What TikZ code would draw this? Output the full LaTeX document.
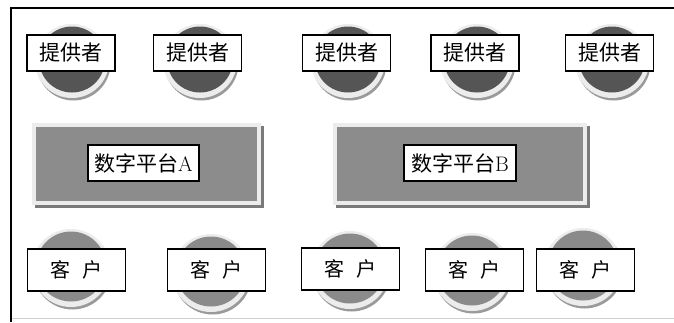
\documentclass[tikz,border=0pt]{standalone}
\usepackage{fontspec}
\newfontfamily\cjk{Noto Sans CJK SC}
\definecolor{ringlight}{HTML}{ECECEC}
\definecolor{ringshadow}{HTML}{9A9A9A}
\definecolor{topdark}{HTML}{555555}
\definecolor{botdark}{HTML}{8A8A8A}
\definecolor{platdark}{HTML}{8C8C8C}
\definecolor{platshadow}{HTML}{7A7A7A}
\definecolor{framegray}{HTML}{D0D0D0}
\tikzset{
  disc/.style={circle, fill=ringlight, inner sep=0pt, minimum size=#1,
    preaction={fill=ringshadow, transform canvas={shift={(1.5pt,-2.5pt)}}}},
  provdisc/.style={disc=74pt,
    path picture={\fill[topdark] ([yshift=1.5pt]path picture bounding box.center) circle (33pt);}},
  custdisc/.style={disc=78pt,
    path picture={\fill[botdark] ([yshift=1.5pt]path picture bounding box.center) circle (35pt);}},
  provlabel/.style={draw=black, line width=1.2pt, fill=white, minimum width=88pt, minimum height=36pt,
    inner sep=0pt, font=\cjk\fontsize{21pt}{21pt}\selectfont},
  custlabel/.style={draw=black, line width=1.2pt, fill=white, minimum width=98pt, minimum height=42pt,
    inner sep=0pt, font=\cjk\fontsize{20pt}{20pt}\selectfont},
  platform/.style={rectangle, fill=ringlight, inner sep=0pt, minimum height=82pt,
    preaction={fill=platshadow, transform canvas={shift={(3pt,-3pt)}}},
    path picture={\fill[platdark] ([shift={(4pt,-4pt)}]path picture bounding box.north west) rectangle ([shift={(-4pt,4pt)}]path picture bounding box.south east);}},
  platlabel/.style={draw=black, line width=1.2pt, fill=white, minimum height=36pt,
    inner sep=3pt, font=\cjk\fontsize{21pt}{21pt}\selectfont},
}
\begin{document}
\begin{tikzpicture}[x=1pt,y=-1pt]
\useasboundingbox (0,0) rectangle (674,322);
\fill[white] (0,0) rectangle (674,322);
% frame
\coordinate (ftr) at (674,8);
\coordinate (ftl) at (11,8);
\coordinate (fbl) at (11,322);
\coordinate (fb1) at (11,318);
\coordinate (fb2) at (674,318);
\draw[framegray, line width=0.8pt] (fb1) -- (fb2);
\draw[black, line width=1.5pt] (ftr) -- (ftl) -- (fbl);
% provider discs
\node[provdisc] (pd1) at (72,61) {};
\node[provdisc] (pd2) at (200,61) {};
\node[provdisc] (pd3) at (348,61) {};
\node[provdisc] (pd4) at (477,61) {};
\node[provdisc] (pd5) at (612,61) {};
\node[provlabel] (p1) at (71,53) {提供者};
\node[provlabel] (p2) at (197.5,53) {提供者};
\node[provlabel] (p3) at (346.5,53) {提供者};
\node[provlabel] (p4) at (475,53) {提供者};
\node[provlabel] (p5) at (609.5,53) {提供者};
% platforms
\node[platform, minimum width=229pt] (pa) at (146.5,164) {};
\node[platform, minimum width=254pt] (pb) at (460,164) {};
\node[platlabel, minimum width=111pt] (la) at (143.5,163) {数字平台{\rmfamily\fontsize{21pt}{21pt}\selectfont A}};
\node[platlabel, minimum width=112pt] (lb) at (460,163) {数字平台{\rmfamily\fontsize{21pt}{21pt}\selectfont B}};
% customer discs
\node[custdisc] (cd1) at (71,268) {};
\node[custdisc] (cd2) at (211,273) {};
\node[custdisc] (cd3) at (350,270) {};
\node[custdisc] (cd4) at (472,272) {};
\node[custdisc] (cd5) at (583,267) {};
\node[custlabel] (c1) at (76.5,270) {客\hspace{0.6em}户};
\node[custlabel] (c2) at (216.5,270) {客\hspace{0.6em}户};
\node[custlabel] (c3) at (350.5,269) {客\hspace{0.6em}户};
\node[custlabel] (c4) at (474.5,270) {客\hspace{0.6em}户};
\node[custlabel] (c5) at (585.5,270) {客\hspace{0.6em}户};
\end{tikzpicture}
\end{document}
